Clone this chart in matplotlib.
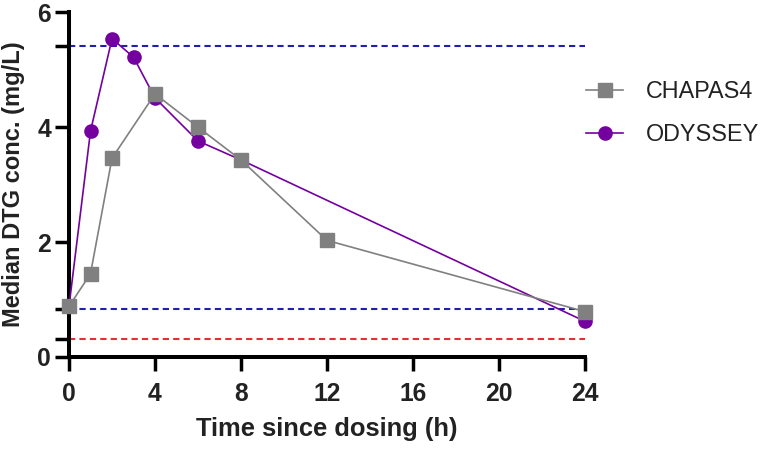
import matplotlib
matplotlib.use("Agg")
import matplotlib.pyplot as plt

# ---- data ----
time_chapas = [0, 1, 2, 4, 6, 8, 12, 24]
conc_chapas = [0.88, 1.45, 3.46, 4.58, 4.00, 3.43, 2.03, 0.79]

time_odyssey = [0, 1, 2, 3, 4, 6, 8, 24]
conc_odyssey = [0.88, 3.93, 5.54, 5.22, 4.51, 3.76, 3.43, 0.62]

ref_blue = [5.41, 0.83]
ref_red = [0.32]

x_ticks = [0, 4, 8, 12, 16, 20, 24]
y_ticks = [0, 2, 4, 6]

# ---- styling ----
GREY = "#808080"
PURPLE = "#7400A0"
BLUE = "#1f1fb0"
RED = "#e03232"
TEXT = "#222222"

plt.rcParams["font.family"] = ["Liberation Sans", "DejaVu Sans"]

fig = plt.figure(figsize=(7.6, 4.5), dpi=100)
ax = fig.add_axes([69 / 760, 1 - 357 / 450, (585 - 69) / 760, (357 - 12.3) / 450])

# reference levels
for yv in ref_blue:
    ax.plot([0, 24], [yv, yv], color=BLUE, lw=1.5, dashes=(3, 2), zorder=1, clip_on=False)
for yv in ref_red:
    ax.plot([0, 24], [yv, yv], color=RED, lw=1.5, dashes=(3, 2), zorder=1, clip_on=False)

ax.plot(time_odyssey, conc_odyssey, color=PURPLE, lw=1.2, marker="o", ms=9.5,
        label="ODYSSEY", zorder=3, clip_on=False)
ax.plot(time_chapas, conc_chapas, color=GREY, lw=1.2, marker="s", ms=9.5,
        label="CHAPAS4", zorder=4, clip_on=False)

ax.set_xlim(0, 24)
ax.set_ylim(0, 6)
ax.set_xticks(x_ticks)
ax.set_yticks(y_ticks)
ax.set_yticks(ref_blue + ref_red, minor=True)

for s in ("top", "right"):
    ax.spines[s].set_visible(False)
for s in ("left", "bottom"):
    ax.spines[s].set_linewidth(2.9)

ax.tick_params(which="both", length=10, width=2.5, labelsize=17.7, labelcolor=TEXT)
ax.tick_params(axis="x", pad=8)
ax.tick_params(axis="y", pad=3)
for lab in ax.get_xticklabels() + ax.get_yticklabels():
    lab.set_fontweight("bold")

ax.set_xlabel("Time since dosing (h)", fontsize=18.4, fontweight="bold", color=TEXT, labelpad=8)
ax.set_ylabel("Median DTG conc. (mg/L)", fontsize=17, fontweight="bold", color=TEXT, labelpad=9)

handles, labels = ax.get_legend_handles_labels()
order = [1, 0]
leg = fig.legend([handles[i] for i in order], [labels[i] for i in order],
                 loc="upper left", bbox_to_anchor=(586 / 760, 1 - 80 / 450),
                 frameon=False, fontsize=16.8, handlelength=1.6, handletextpad=0.95,
                 labelspacing=0.85, borderpad=0, borderaxespad=0)
for t in leg.get_texts():
    t.set_color(TEXT)

fig.savefig("out.png", dpi=100)
